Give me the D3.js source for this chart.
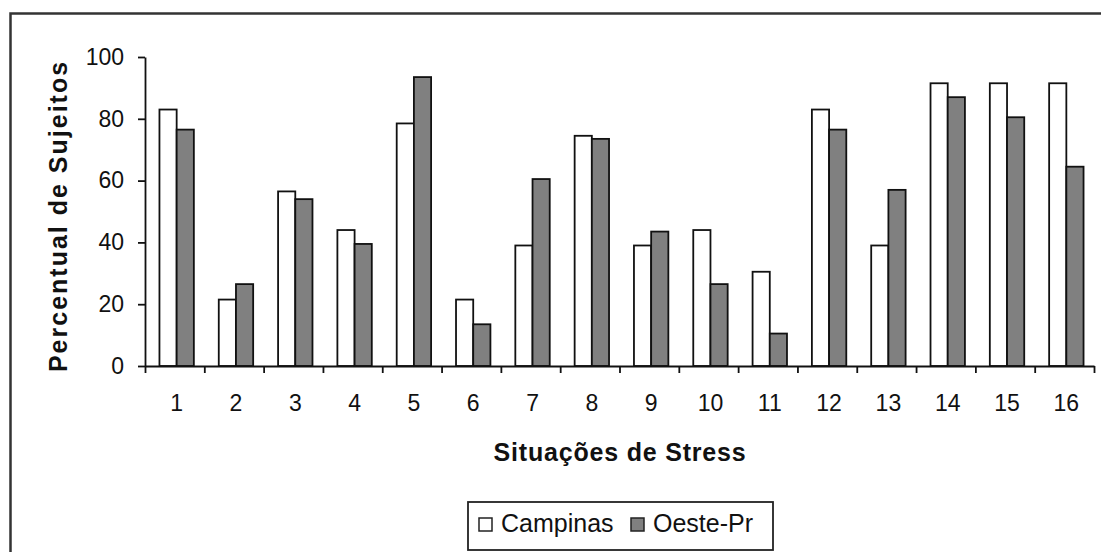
<!DOCTYPE html>
<html>
<head>
<meta charset="utf-8">
<script src="https://cdn.jsdelivr.net/npm/d3@7"></script>
<style>
  body { margin: 0; background: #fff; }
  text { font-family: "Liberation Sans", Arial, sans-serif; fill: #111; }
</style>
</head>
<body>
<script>
// situations 1..16
const situacoes = ["1","2","3","4","5","6","7","8","9","10","11","12","13","14","15","16"];
const campinas = [83, 21.5, 56.5, 44, 78.5, 21.5, 39, 74.5, 39, 44, 30.5, 83, 39, 91.5, 91.5, 91.5];
const oestePr  = [76.5, 26.5, 54, 39.5, 93.5, 13.5, 60.5, 73.5, 43.5, 26.5, 10.5, 76.5, 57, 87, 80.5, 64.5];
const yTicks = [0, 20, 40, 60, 80, 100];
const seriesNames = ["Campinas", "Oeste-Pr"];
const seriesColors = ["#ffffff", "#808080"];

const width = 1101, height = 552;
const plot = {left: 145, right: 1094, top: 57, bottom: 366};

const svg = d3.select("body").append("svg")
    .attr("width", width)
    .attr("height", height);

// outer frame (only top and left edges are visible in the picture)
svg.append("path")
    .attr("d", `M10.5,${height} L10.5,13.5 L${width},13.5`)
    .attr("fill", "none")
    .attr("stroke", "#333")
    .attr("stroke-width", 2.5);

const xscale = d3.scaleBand()
    .domain(situacoes)
    .range([plot.left, plot.right]);

const xbound = d3.scaleLinear()
    .domain([0, situacoes.length])
    .range([plot.left, plot.right]);

const yscale = d3.scaleLinear()
    .domain([0, 100])
    .range([plot.bottom, plot.top]);

const barW = xscale.bandwidth() * 0.29;

const data = situacoes.map((s, i) => ({s: s, v: [campinas[i], oestePr[i]]}));

const groups = svg.selectAll("g.cat")
    .data(data)
    .enter()
    .append("g")
    .attr("class", "cat");

groups.selectAll("rect")
    .data(d => d.v.map((v, k) => ({s: d.s, v: v, k: k})))
    .enter()
    .append("rect")
    .attr("x", d => xscale(d.s) + xscale.bandwidth() / 2 - barW + d.k * barW + 2)
    .attr("y", d => yscale(d.v))
    .attr("width", barW)
    .attr("height", d => yscale(0) - yscale(d.v))
    .attr("fill", d => seriesColors[d.k])
    .attr("stroke", "#111")
    .attr("stroke-width", 1.8);

// y axis
const yaxis = svg.append("g")
    .attr("transform", `translate(${plot.left},0)`)
    .call(d3.axisLeft(yscale).tickValues(yTicks).tickSize(7).tickPadding(14).tickSizeOuter(0));
yaxis.select(".domain").attr("stroke", "#111").attr("stroke-width", 1.8);
yaxis.selectAll(".tick line").attr("stroke", "#111").attr("stroke-width", 1.8);
yaxis.selectAll(".tick text")
    .attr("font-size", 23)
    .attr("font-family", "Liberation Sans, Arial, sans-serif")
    .attr("fill", "#222");

// x axis: boundary ticks
const xticks = svg.append("g")
    .attr("transform", `translate(0,${plot.bottom})`)
    .call(d3.axisBottom(xbound).tickValues(d3.range(0, situacoes.length + 1)).tickSize(7).tickFormat("").tickSizeOuter(0));
xticks.select(".domain").attr("stroke", "#111").attr("stroke-width", 1.8);
xticks.selectAll(".tick line").attr("stroke", "#111").attr("stroke-width", 1.8);

// x axis: category labels
const xlabels = svg.append("g")
    .attr("transform", `translate(2,${plot.bottom})`)
    .call(d3.axisBottom(xscale).tickSize(0).tickPadding(29));
xlabels.select(".domain").remove();
xlabels.selectAll(".tick text")
    .attr("font-size", 23)
    .attr("font-family", "Liberation Sans, Arial, sans-serif")
    .attr("fill", "#222");

// axis titles
svg.append("text")
    .attr("x", 620)
    .attr("y", 461)
    .attr("text-anchor", "middle")
    .attr("font-size", 25)
    .attr("font-weight", "bold")
    .attr("letter-spacing", 0.8)
    .text("Situações de Stress");

svg.append("text")
    .attr("transform", "translate(67,216) rotate(-90)")
    .attr("text-anchor", "middle")
    .attr("font-size", 25)
    .attr("font-weight", "bold")
    .attr("letter-spacing", 2)
    .text("Percentual de Sujeitos");

// legend
const legend = svg.append("g").attr("transform", "translate(468,502)");
legend.append("rect")
    .attr("width", 305)
    .attr("height", 48)
    .attr("fill", "#fff")
    .attr("stroke", "#222")
    .attr("stroke-width", 1.8);

const legX = [11, 163];
seriesNames.forEach((name, k) => {
    legend.append("rect")
        .attr("x", legX[k])
        .attr("y", 16)
        .attr("width", 13)
        .attr("height", 13)
        .attr("fill", seriesColors[k])
        .attr("stroke", "#222")
        .attr("stroke-width", 1.5);
    legend.append("text")
        .attr("x", legX[k] + 22)
        .attr("y", 30)
        .attr("font-size", 25)
        .text(name);
});
</script>
</body>
</html>
